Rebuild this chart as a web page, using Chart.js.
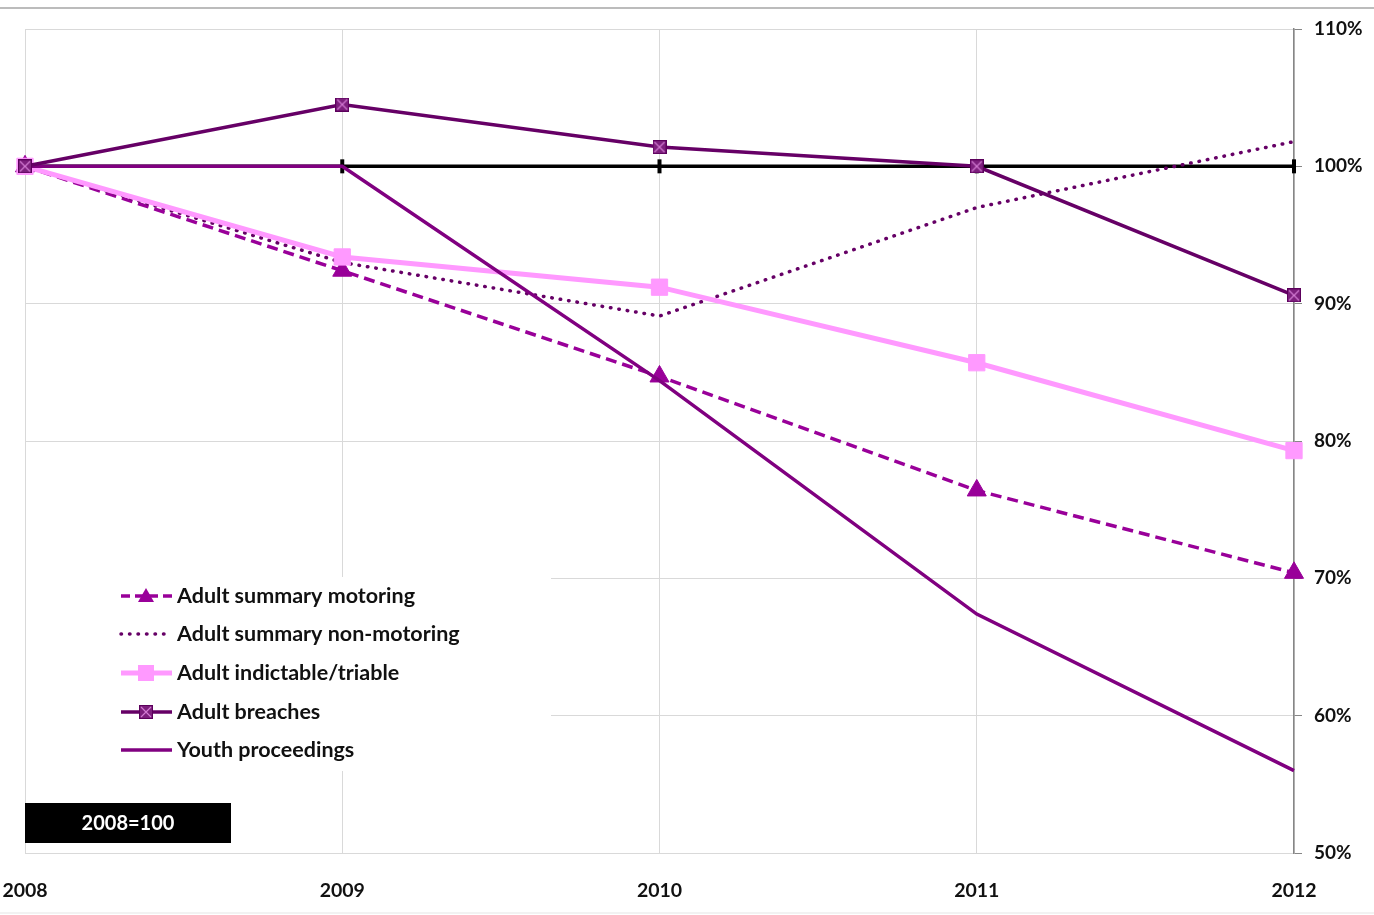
<!DOCTYPE html>
<html>
<head>
<meta charset="utf-8">
<script src="https://cdn.jsdelivr.net/npm/chart.js@4.4.1/dist/chart.umd.min.js"></script>
<style>
  html, body { margin: 0; padding: 0; background: #fff; }
  #chart { display: block; }
</style>
</head>
<body>
<canvas id="chart" width="1374" height="915"></canvas>
<script>
// Index values, 2008 = 100
const years = ['2008', '2009', '2010', '2011', '2012'];
const summaryMotoring = [100, 92.4, 84.7, 76.4, 70.4];
const summaryNonMotoring = [100, 93.0, 89.1, 97.0, 101.8];
const indictableTriable = [100, 93.4, 91.2, 85.7, 79.3];
const adultBreaches = [100, 104.5, 101.4, 100, 90.6];
const youthProceedings = [100, 100, 84.4, 67.4, 56.0];
const baseline = [100, 100, 100, 100, 100];
const yTicks = [50, 60, 70, 80, 90, 100, 110];

const FONT = 'Lato, "Open Sans", sans-serif';

// Boxed-cross marker used for the breaches series
function boxedCross(size) {
    const c = document.createElement('canvas');
    c.width = size; c.height = size;
    const g = c.getContext('2d');
    g.fillStyle = '#7d1f7d';
    g.fillRect(0, 0, size, size);
    g.strokeStyle = '#d27ad2';
    g.lineWidth = 1.2;
    g.beginPath();
    g.moveTo(2, 2); g.lineTo(size - 2, size - 2);
    g.moveTo(size - 2, 2); g.lineTo(2, size - 2);
    g.stroke();
    g.strokeStyle = '#5c005c';
    g.lineWidth = 1;
    g.strokeRect(0.5, 0.5, size - 1, size - 1);
    return c;
}
const breachMarker = boxedCross(14);

const legendItems = [
    { label: 'Adult summary motoring', color: '#990099', width: 3.5, dash: [9, 5], marker: 'triangle' },
    { label: 'Adult summary non-motoring', color: '#660066', width: 3.5, dash: [0.5, 8], cap: 'round' },
    { label: 'Adult indictable/triable', color: '#ff99ff', width: 5, dash: [], marker: 'square' },
    { label: 'Adult breaches', color: '#660066', width: 3.5, dash: [], marker: 'cross' },
    { label: 'Youth proceedings', color: '#800080', width: 3.5, dash: [] }
];

const overlayPlugin = {
    id: 'overlay',
    beforeDatasetsDraw(chart) {
        const ctx = chart.ctx;
        ctx.save();
        // white panel behind the legend
        ctx.fillStyle = '#ffffff';
        ctx.fillRect(26, 577, 525, 194);
        ctx.restore();
    },
    afterDraw(chart) {
        const ctx = chart.ctx;
        ctx.save();
        // frame rules top and bottom
        ctx.strokeStyle = '#a6a6a6';
        ctx.lineWidth = 1.5;
        ctx.beginPath();
        ctx.moveTo(0, 8); ctx.lineTo(1374, 8);
        ctx.stroke();
        ctx.strokeStyle = '#eeeeee';
        ctx.beginPath();
        ctx.moveTo(0, 913); ctx.lineTo(1374, 913);
        ctx.stroke();

        // legend
        const rows = [596, 634, 673, 712, 750];
        legendItems.forEach((it, i) => {
            const y = rows[i];
            ctx.strokeStyle = it.color;
            ctx.lineWidth = it.width;
            ctx.lineCap = it.cap || 'butt';
            ctx.setLineDash(it.dash);
            ctx.beginPath();
            ctx.moveTo(121, y); ctx.lineTo(172, y);
            ctx.stroke();
            ctx.setLineDash([]);
            if (it.marker === 'triangle') {
                ctx.fillStyle = '#990099';
                ctx.beginPath();
                ctx.moveTo(146, y - 8); ctx.lineTo(154, y + 6); ctx.lineTo(138, y + 6);
                ctx.closePath(); ctx.fill();
            } else if (it.marker === 'square') {
                ctx.fillStyle = '#ff99ff';
                ctx.fillRect(138, y - 8, 16, 16);
            } else if (it.marker === 'cross') {
                ctx.drawImage(breachMarker, 139, y - 7, 14, 14);
            }
            ctx.fillStyle = '#111111';
            ctx.font = 'bold 21.5px ' + FONT;
            ctx.textAlign = 'left';
            ctx.textBaseline = 'middle';
            ctx.fillText(it.label, 177, y);
        });

        // base note
        ctx.fillStyle = '#000000';
        ctx.fillRect(25, 803, 206, 40);
        ctx.fillStyle = '#ffffff';
        ctx.font = 'bold 20px ' + FONT;
        ctx.textAlign = 'center';
        ctx.textBaseline = 'middle';
        ctx.fillText('2008=100', 128, 824);
        ctx.restore();
    }
};

new Chart(document.getElementById('chart'), {
    type: 'line',
    data: {
        labels: years,
        datasets: [
            {
                label: 'Adult breaches', data: adultBreaches,
                borderColor: '#660066', borderWidth: 3.5,
                pointStyle: breachMarker, pointRadius: 7
            },
            {
                label: 'Youth proceedings', data: youthProceedings,
                borderColor: '#800080', borderWidth: 3.5, pointRadius: 0
            },
            {
                label: 'Adult indictable/triable', data: indictableTriable,
                borderColor: '#ff99ff', borderWidth: 5,
                pointStyle: 'rect', pointRadius: 11.5,
                pointBackgroundColor: '#ff99ff', pointBorderColor: '#ff99ff', pointBorderWidth: 1
            },
            {
                label: 'Adult summary non-motoring', data: summaryNonMotoring,
                borderColor: '#660066', borderWidth: 3.5, borderDash: [0.5, 8],
                borderCapStyle: 'round', pointRadius: 0
            },
            {
                label: 'Adult summary motoring', data: summaryMotoring,
                borderColor: '#990099', borderWidth: 3.5, borderDash: [11, 6],
                pointStyle: 'triangle', pointRadius: 11,
                pointBackgroundColor: '#990099', pointBorderColor: '#990099', pointBorderWidth: 1
            },
            {
                label: 'Base', data: baseline,
                borderColor: '#000000', borderWidth: 3.5,
                pointStyle: 'line', pointRotation: 90, pointRadius: 7,
                pointBorderColor: '#000000', pointBorderWidth: 4
            }
        ]
    },
    options: {
        responsive: false,
        animation: false,
        events: [],
        layout: { padding: { left: 25, top: 29, right: 0, bottom: 0 } },
        plugins: { legend: { display: false }, tooltip: { enabled: false } },
        elements: { line: { tension: 0 } },
        scales: {
            x: {
                offset: false,
                grid: { color: '#d9d9d9', lineWidth: 1, drawTicks: false },
                border: { display: false },
                ticks: {
                    color: '#111111', padding: 26, maxRotation: 0,
                    font: { family: FONT, size: 19.5, weight: 'bold' }
                },
                afterFit(scale) {
                    scale.height = 62;
                    scale.paddingLeft = 0;
                    scale.paddingRight = 0;
                }
            },
            y: {
                position: 'right',
                min: 50, max: 110,
                afterBuildTicks(scale) { scale.ticks = yTicks.map(v => ({ value: v })); },
                grid: { color: '#d9d9d9', lineWidth: 1, tickColor: '#868686', tickLength: 8 },
                border: { display: true, color: '#868686', width: 1.5 },
                ticks: {
                    color: '#111111', padding: 12,
                    font: { family: FONT, size: 19, weight: 'bold' },
                    callback: v => v + '%'
                },
                afterFit(scale) {
                    scale.width = 80;
                    scale.paddingTop = 0;
                    scale.paddingBottom = 0;
                }
            }
        }
    },
    plugins: [overlayPlugin]
});
</script>
</body>
</html>
